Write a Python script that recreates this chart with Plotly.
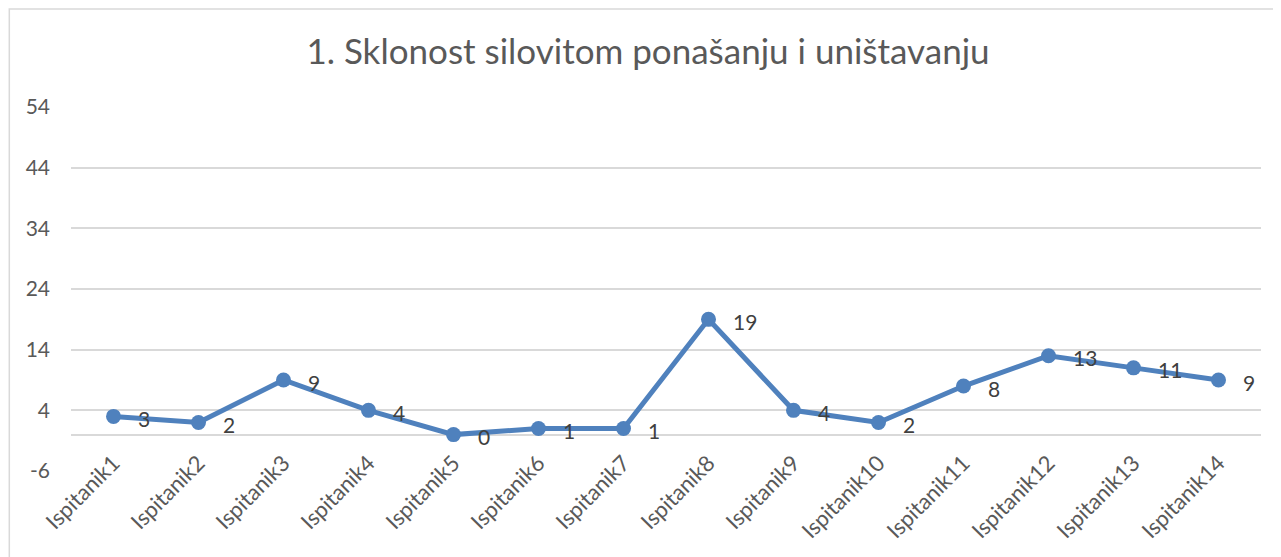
import plotly.graph_objects as go

categories = [f"Ispitanik{i}" for i in range(1, 15)]
values = [3, 2, 9, 4, 0, 1, 1, 19, 4, 2, 8, 13, 11, 9]
y_ticks = [-6, 4, 14, 24, 34, 44, 54]
title_text = "1. Sklonost silovitom ponašanju i uništavanju"

FONT = "Lato, Carlito, Calibri, sans-serif"
LINE_COLOR = "#4f81bd"
GRID = "#d9d9d9"
TXT = "#595959"

fig = go.Figure()
fig.add_trace(go.Scatter(
    x=categories, y=values, mode="lines+markers",
    line=dict(color=LINE_COLOR, width=5),
    marker=dict(color=LINE_COLOR, size=15),
    hoverinfo="x+y", showlegend=False,
))

for c, v in zip(categories, values):
    fig.add_annotation(
        x=c, y=v, text=str(v), showarrow=False,
        xanchor="left", yanchor="middle", xshift=22, yshift=-2,
        font=dict(family=FONT, size=21, color="#404040"),
    )

# page has an 8px body margin; figure coordinates = page - 8
W, H = 1273, 549
ml, mr, mt, mb = 62.5, 19.5, 99, 86
pw, ph = W - ml - mr, H - mt - mb
def px(x): return (x - ml) / pw
def py(y): return (H - mb - y) / ph

fig.add_shape(type="rect", xref="paper", yref="paper",
              x0=px(0.75), x1=px(W + 5), y0=py(H + 5), y1=py(1),
              line=dict(color=GRID, width=1.5), layer="below")

fig.update_layout(
    template="none",
    width=W, height=H, autosize=False,
    margin=dict(l=ml, r=mr, t=mt, b=mb, autoexpand=False),
    paper_bgcolor="white", plot_bgcolor="white",
    title=dict(text=title_text, x=px(640), xref="paper", xanchor="center",
               y=1 - 44 / H, yanchor="middle",
               font=dict(family=FONT, size=35, color=TXT)),
    font=dict(family=FONT, color=TXT),
    xaxis=dict(type="category", range=[-0.5, 13.5], showgrid=False,
               showline=False, zeroline=False, tickangle=-45, automargin=False,
               ticklabelstandoff=-26,
               tickfont=dict(family=FONT, size=22, color=TXT), ticks=""),
    yaxis=dict(range=[-6, 54], tickvals=y_ticks, ticktext=[str(t) for t in y_ticks],
               showgrid=True, gridcolor=GRID, gridwidth=1.5, automargin=False,
               zeroline=True, zerolinecolor=GRID, zerolinewidth=1.5,
               showline=False, ticks="", ticklabelstandoff=20,
               tickfont=dict(family=FONT, size=21, color=TXT)),
)

fig.write_html("out.html")
